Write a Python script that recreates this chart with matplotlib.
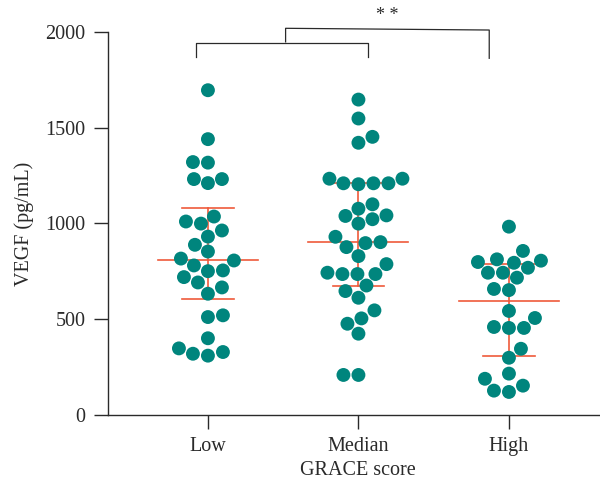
import numpy as np
import matplotlib
matplotlib.use("Agg")
import matplotlib.pyplot as plt

plt.rcParams['font.family'] = ['Liberation Serif', 'DejaVu Serif']

# VEGF values (pg/mL)
groups = ["Low", "Median", "High"]
low = [1697, 1441, 1318, 1321, 1232, 1211, 1232, 1036, 999, 1010, 963, 931,
       888, 853, 806, 780, 816, 754, 750, 719, 665, 691, 632, 519, 510, 399,
       318, 327, 346, 308]
median = [1648, 1549, 1453, 1422, 1205, 1234, 1210, 1234, 1210, 1210, 1100,
          1042, 1039, 1077, 1022, 999, 930, 902, 897, 876, 829, 787, 735, 735,
          742, 735, 646, 675, 611, 545, 475, 503, 423, 207, 207]
high = [983, 812, 794, 798, 856, 805, 768, 742, 742, 716, 657, 651, 542, 505,
        453, 458, 453, 344, 297, 214, 187, 151, 125, 118]
data = [low, median, high]

dot_color = "#00857d"
bar_color = "#ef5a3b"
ink = "#2a2a2a"
fs = 14.5

fig = plt.figure(figsize=(6.0, 4.83), dpi=100)
ax = fig.add_axes([0.1795, 0.1418, 0.8205, 0.7913])
ax.set_xlim(0.334, 3.605)
ax.set_ylim(0, 2000)


def swarm(ax, xc, vals, diam):
    # greedy beeswarm in pixel space, points sorted by value
    pts = ax.transData.transform(np.column_stack([np.full(len(vals), xc), vals]))
    x0 = pts[0, 0]
    placed = []
    xs = np.zeros(len(vals))
    order = np.argsort(vals)
    for n, i in enumerate(order):
        y = pts[i, 1]
        sign = 1 if n % 2 == 0 else -1
        for k in range(0, 200):
            found = False
            for dx in ([0] if k == 0 else [sign * k, -sign * k]):
                if all((dx - px) ** 2 + (y - py) ** 2 >= diam ** 2 for px, py in placed):
                    found = True
                    break
            if found:
                break
        placed.append((dx, y))
        xs[i] = x0 + dx
    back = ax.transData.inverted().transform(np.column_stack([xs, pts[:, 1]]))
    return back[:, 0]


for i, vals in enumerate(data):
    xc = i + 1
    vals = np.array(vals, dtype=float)
    xs = swarm(ax, xc, vals, 14.5)
    ax.scatter(xs, vals, s=100, color=dot_color, edgecolors="none", zorder=3)
    q1, med, q3 = np.percentile(vals, [25, 50, 75], method="weibull")
    ax.plot([xc - 0.332, xc + 0.332], [med, med], color=bar_color, lw=1.2, zorder=2)
    ax.plot([xc, xc], [q1, q3], color=bar_color, lw=1.2, zorder=2)
    for q in (q1, q3):
        ax.plot([xc - 0.17, xc + 0.17], [q, q], color=bar_color, lw=1.2, zorder=2)

# significance brackets
br = dict(color=ink, lw=0.9, clip_on=False)
ax.plot([0.918, 0.918, 2.065, 2.065], [1872, 1942, 1942, 1872], **br)
ax.plot([1.516, 1.516, 2.869, 2.869], [1950, 2021, 2012, 1864], **br)
ax.text(2.19, 2090, "* *", ha="center", va="center", fontsize=13, color=ink)

ax.spines["top"].set_visible(False)
ax.spines["right"].set_visible(False)
for s in ("left", "bottom"):
    ax.spines[s].set_linewidth(1.0)
    ax.spines[s].set_color(ink)

ax.set_xticks([1, 2, 3])
ax.set_xticklabels(groups)
ax.set_yticks([0, 500, 1000, 1500, 2000])
ax.tick_params(axis="both", direction="out", length=10, width=1.0,
               color=ink, labelcolor=ink, labelsize=fs)
ax.tick_params(axis="x", pad=6)
ax.tick_params(axis="y", pad=6)

ax.set_xlabel("GRACE score", fontsize=fs, color=ink)
ax.set_ylabel("VEGF (pg/mL)", fontsize=fs, color=ink)
ax.xaxis.set_label_coords(0.508, -0.122)
ax.yaxis.set_label_coords(-0.15, 0.5)

fig.savefig("out.png", dpi=100)
